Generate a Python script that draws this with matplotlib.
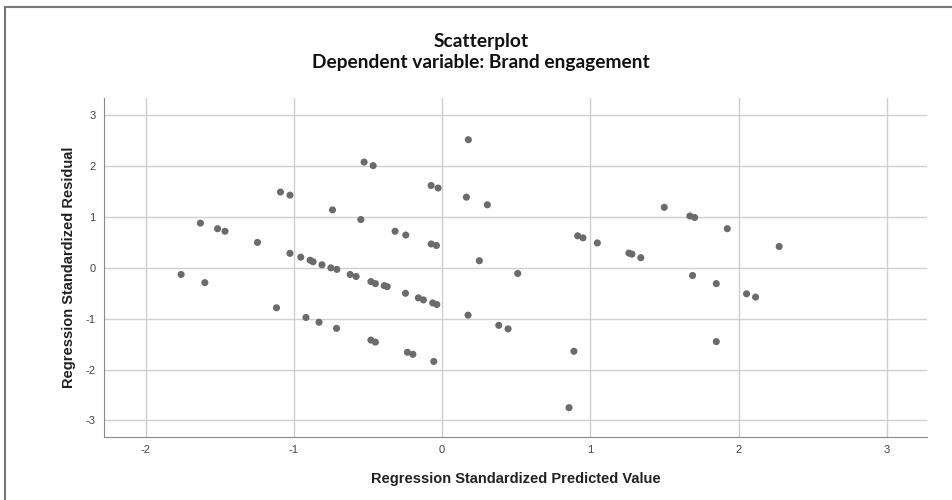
import numpy as np
import matplotlib
matplotlib.use('Agg')
import matplotlib.pyplot as plt
from matplotlib.lines import Line2D

plt.rcParams['axes.unicode_minus'] = False

# regression standardized predicted value / residual pairs
pred = [-1.76, -1.63, -1.60, -1.514, -1.464, -1.245, -1.117, -1.09, -1.026, -1.026,
        -0.953, -0.918, -0.89, -0.87, -0.83, -0.81, -0.75, -0.739, -0.712, -0.71,
        -0.62, -0.58, -0.548, -0.526, -0.48, -0.48, -0.465, -0.45, -0.45, -0.39,
        -0.37, -0.317, -0.247, -0.245, -0.234, -0.197, -0.16, -0.126, -0.074, -0.074,
        -0.063, -0.056, -0.038, -0.036, -0.027, 0.164, 0.175, 0.177, 0.251, 0.305,
        0.382, 0.445, 0.51, 0.856, 0.889, 0.914, 0.95, 1.047, 1.26, 1.28,
        1.34, 1.498, 1.671, 1.689, 1.703, 1.849, 1.849, 1.923, 2.053, 2.114, 2.273]
resid = [-0.13, 0.88, -0.29, 0.77, 0.72, 0.50, -0.785, 1.49, 1.43, 0.285,
         0.21, -0.975, 0.15, 0.12, -1.07, 0.06, 0.0, 1.14, -1.19, -0.03,
         -0.13, -0.17, 0.95, 2.08, -0.27, -1.42, 2.01, -0.31, -1.46, -0.35,
         -0.37, 0.72, -0.50, 0.645, -1.66, -1.70, -0.59, -0.63, 1.62, 0.47,
         -0.69, -1.84, 0.44, -0.72, 1.57, 1.39, -0.93, 2.52, 0.14, 1.24,
         -1.13, -1.20, -0.11, -2.75, -1.64, 0.63, 0.59, 0.49, 0.29, 0.27,
         0.20, 1.19, 1.02, -0.15, 0.99, -0.31, -1.45, 0.77, -0.51, -0.575, 0.42]

xticks = [-2, -1, 0, 1, 2, 3]
yticks = [-3, -2, -1, 0, 1, 2, 3]

fig = plt.figure(figsize=(9.53, 5.0), dpi=100)
ax = fig.add_axes([104/953, 1-436.7/500, (927-104)/953, (436.7-98)/500])

ax.scatter(pred, resid, s=26, color='#6b6b6b', edgecolors='none', zorder=3)

ax.set_xlim(-2.28, 3.27)
ax.set_ylim(-3.32, 3.34)
ax.set_xticks(xticks)
ax.set_yticks(yticks)
ax.grid(True, color='#cfcfcf', linewidth=1.0, zorder=0)
ax.tick_params(length=0, labelsize=8, labelcolor='#444444', pad=6)
for s in ['top', 'right']:
    ax.spines[s].set_visible(False)
ax.spines['left'].set_color('#8a8a8a')
ax.spines['bottom'].set_color('#8a8a8a')

ax.set_xlabel('Regression Standardized Predicted Value', fontsize=10.5,
              fontweight='bold', family='Liberation Sans', color='#222222', labelpad=12)
ax.set_ylabel('Regression Standardized Residual', fontsize=10.5,
              fontweight='bold', family='Liberation Sans', color='#222222', labelpad=7)
for lab in ax.get_xticklabels() + ax.get_yticklabels():
    lab.set_family('Liberation Sans')

fig.text(481/953, 1-41/500, 'Scatterplot', ha='center', va='center',
         fontsize=13.8, fontweight='bold', family='Lato', color='#111111')
fig.text(481/953, 1-62.5/500, 'Dependent variable: Brand engagement', ha='center',
         va='center', fontsize=13.8, fontweight='bold', family='Lato', color='#111111')

# outer frame of the screenshot
fig.add_artist(Line2D([5/953, 5/953], [0, 1-6.5/500], transform=fig.transFigure,
                      color='#777777', linewidth=1.5))
fig.add_artist(Line2D([5/953, 1], [1-6.5/500, 1-6.5/500], transform=fig.transFigure,
                      color='#777777', linewidth=1.5))

fig.savefig('out.png', dpi=100)
